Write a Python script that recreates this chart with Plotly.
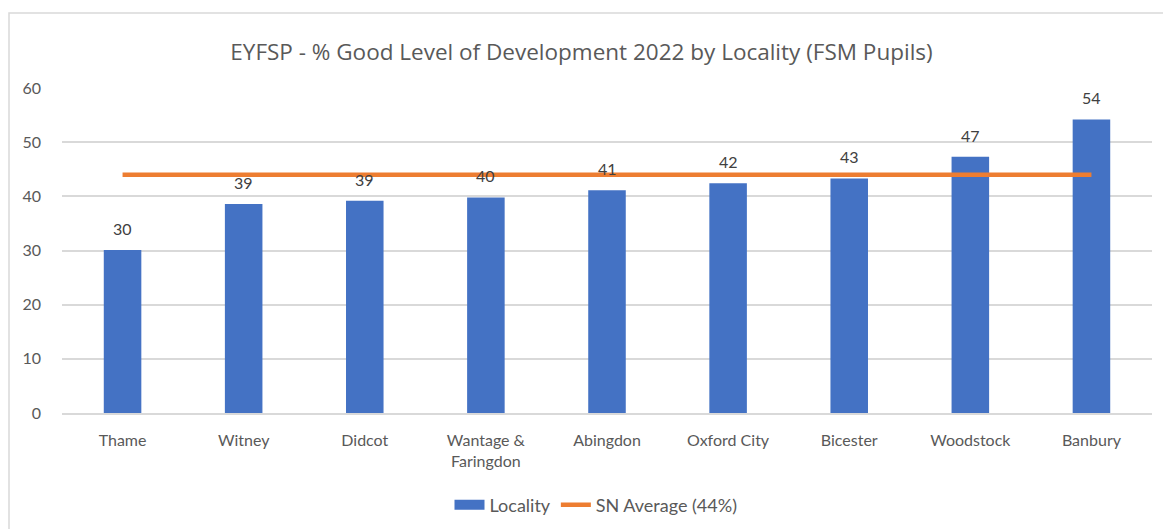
import plotly.graph_objects as go

categories = ["Thame", "Witney", "Didcot", "Wantage &<br>Faringdon", "Abingdon",
              "Oxford City", "Bicester", "Woodstock", "Banbury"]
locality = [30.1, 38.6, 39.2, 39.8, 41.1, 42.4, 43.3, 47.3, 54.2]
sn_average = [44, 44, 44, 44, 44, 44, 44, 44, 44]
y_ticks = [0, 10, 20, 30, 40, 50, 60]

FONT = "Lato, 'Open Sans', sans-serif"
TFONT = "'Open Sans', Lato, sans-serif"
GRAY = "#595959"
BLUE = "#4472C4"
ORANGE = "#ED7D31"

W, H = 1163, 529
L, R, T, B = 62, 11, 88, 116
PW, PH = W - L - R, H - T - B

fig = go.Figure()
fig.add_trace(go.Bar(
    x=categories, y=locality, name="Locality",
    marker=dict(color=BLUE, line=dict(width=0)),
    width=0.31, showlegend=False,
))
# legend entry for the bars (wide rectangle like the original)
fig.add_trace(go.Scatter(
    x=[None], y=[None], name="Locality", mode="lines",
    line=dict(color=BLUE, width=10),
))
fig.add_trace(go.Scatter(
    x=categories, y=sn_average, name="SN Average (44%)",
    mode="lines", line=dict(color=ORANGE, width=4.5),
))

for c, v in zip(categories, locality):
    fig.add_annotation(x=c, y=v, text=f"{v:.0f}", showarrow=False,
                       yanchor="bottom", yshift=10,
                       font=dict(size=16, color="#404040", family=FONT))

fig.add_shape(type="rect", xref="paper", yref="paper",
              x0=(9 - L) / PW, x1=1.05, y0=-0.5, y1=(H - B - 13) / PH,
              line=dict(color="#D9D9D9", width=1.5), fillcolor="rgba(0,0,0,0)",
              layer="below")

fig.update_layout(
    width=W, height=H,
    margin=dict(l=L, r=R, t=T, b=B, autoexpand=False),
    paper_bgcolor="white", plot_bgcolor="white",
    title=dict(text="EYFSP - % Good Level of Development 2022 by Locality (FSM Pupils)",
               x=0.5, xanchor="center", y=1 - 52 / H, yanchor="middle",
               font=dict(size=22.5, color=GRAY, family=TFONT)),
    font=dict(family=FONT, color=GRAY, size=16),
    showlegend=True,
    legend=dict(orientation="h", x=(596 - L) / PW, xanchor="center",
                y=((H - B) - 505) / PH, yanchor="middle",
                font=dict(size=18, color=GRAY, family=FONT), traceorder="normal"),
    bargap=0.69,
)
fig.update_xaxes(showgrid=False, showline=True, linecolor="#D9D9D9", linewidth=1.5,
                 ticks="", ticklabelstandoff=12, automargin=False,
                 tickfont=dict(size=16, color=GRAY, family=FONT))
fig.update_yaxes(range=[0, 60], tickvals=y_ticks, showgrid=True, gridcolor="#D9D9D9",
                 gridwidth=1.5, zeroline=False, showline=False, ticks="",
                 ticklabelstandoff=20, automargin=False,
                 tickfont=dict(size=16, color=GRAY, family=FONT))

fig.write_html("out.html", config={"displayModeBar": False},
               post_script="document.body.style.margin='0';document.body.style.overflow='hidden';")
